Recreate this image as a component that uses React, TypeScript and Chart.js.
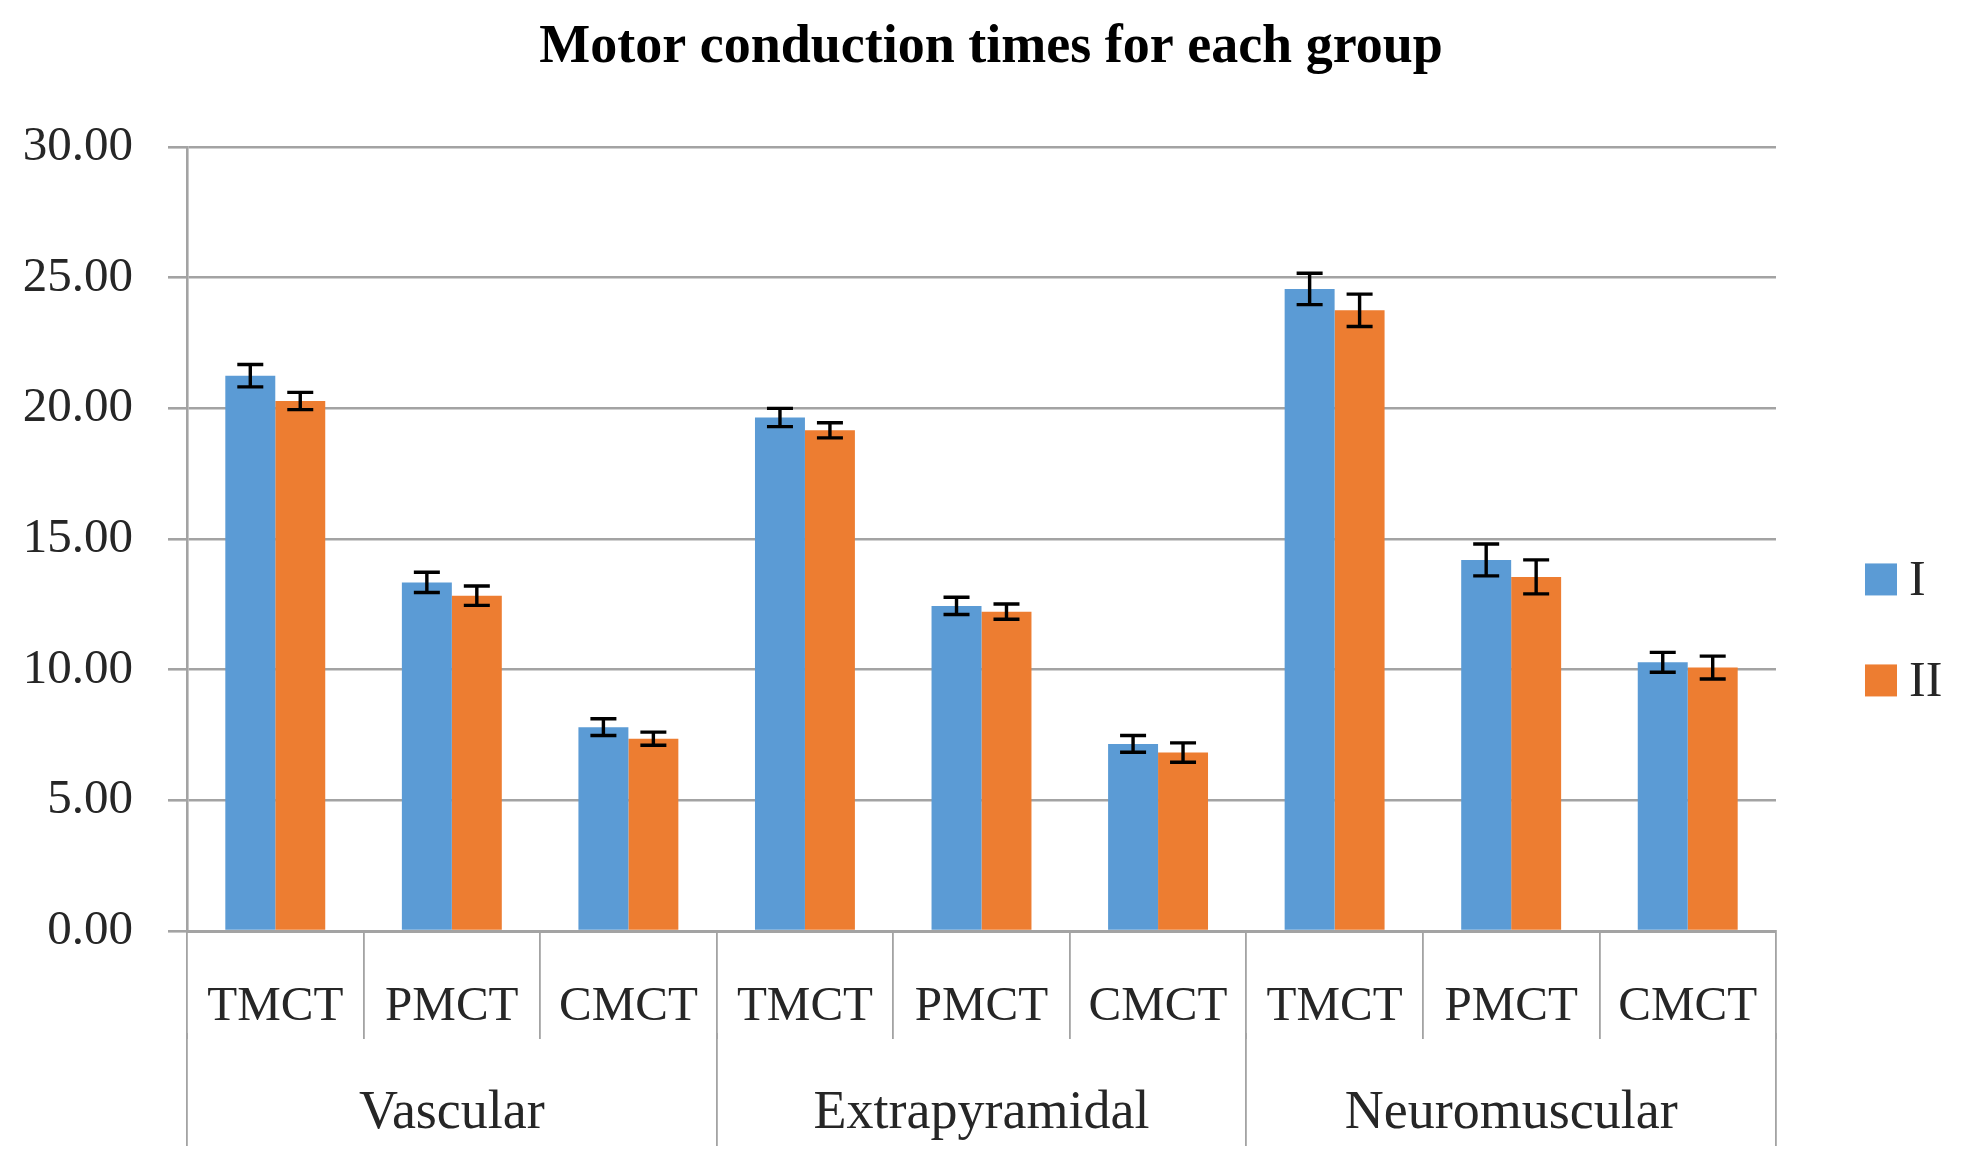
import React, { useEffect, useRef } from "react";
import { Chart, registerables } from "chart.js";

Chart.register(...registerables);

const categories = ["TMCT", "PMCT", "CMCT", "TMCT", "PMCT", "CMCT", "TMCT", "PMCT", "CMCT"];
const groups = ["Vascular", "Extrapyramidal", "Neuromuscular"];
const seriesNames = ["I", "II"];
const valuesI = [21.25, 13.34, 7.8, 19.65, 12.44, 7.16, 24.57, 14.2, 10.28];
const valuesII = [20.28, 12.83, 7.36, 19.16, 12.22, 6.83, 23.75, 13.55, 10.08];
const errorsI = [0.43, 0.39, 0.32, 0.35, 0.33, 0.32, 0.6, 0.61, 0.38];
const errorsII = [0.33, 0.37, 0.25, 0.29, 0.29, 0.37, 0.62, 0.65, 0.44];
const yTicks = { min: 0, max: 30, step: 5 };

const BLUE = "#5B9BD5";
const ORANGE = "#ED7D31";
const GRID = "#a3a3a3";
const TEXT = "#262626";
const FONT = "'Liberation Serif', 'DejaVu Serif', serif";

const errorBarPlugin = {
  id: "errorBars",
  afterDatasetsDraw(chart: any) {
    const ctx = chart.ctx;
    const yScale = chart.scales.y;
    chart.data.datasets.forEach((ds: any, di: number) => {
      const meta = chart.getDatasetMeta(di);
      const errs: number[] = ds.errors || [];
      meta.data.forEach((el: any, i: number) => {
        const v = ds.data[i];
        const e = errs[i] || 0;
        const yTop = yScale.getPixelForValue(v + e);
        const yBot = yScale.getPixelForValue(v - e);
        const x = el.x;
        const cap = 13;
        ctx.save();
        ctx.strokeStyle = "#000";
        ctx.lineWidth = 3.4;
        ctx.beginPath();
        ctx.moveTo(x, yTop);
        ctx.lineTo(x, yBot);
        ctx.moveTo(x - cap, yTop);
        ctx.lineTo(x + cap, yTop);
        ctx.moveTo(x - cap, yBot);
        ctx.lineTo(x + cap, yBot);
        ctx.stroke();
        ctx.restore();
      });
    });
  },
};

const sideLegendPlugin = {
  id: "sideLegend",
  afterDraw(chart: any) {
    const ctx = chart.ctx;
    const area = chart.chartArea;
    const center = area.top + 0.616 * (area.bottom - area.top);
    const spacing = 101;
    const n = chart.data.datasets.length;
    const boxX = area.right + 89;
    const box = 32;
    chart.data.datasets.forEach((ds: any, i: number) => {
      const cy = center + (i - (n - 1) / 2) * spacing;
      ctx.save();
      ctx.fillStyle = ds.backgroundColor;
      ctx.fillRect(boxX, cy - box / 2, box, box);
      ctx.fillStyle = TEXT;
      ctx.font = `50px ${FONT}`;
      ctx.textBaseline = "middle";
      ctx.textAlign = "left";
      ctx.fillText(ds.label, boxX + box + 12, cy + 2);
      ctx.restore();
    });
  },
};

export default function App() {
  const canvasRef = useRef<HTMLCanvasElement | null>(null);

  useEffect(() => {
    document.body.style.margin = "0";
    const canvas = canvasRef.current;
    if (!canvas) return;
    const chart = new Chart(canvas, {
      type: "bar",
      data: {
        labels: categories,
        datasets: [
          {
            label: seriesNames[0],
            data: valuesI,
            backgroundColor: BLUE,
            errors: errorsI,
            categoryPercentage: 0.566,
            barPercentage: 1,
          } as any,
          {
            label: seriesNames[1],
            data: valuesII,
            backgroundColor: ORANGE,
            errors: errorsII,
            categoryPercentage: 0.566,
            barPercentage: 1,
          } as any,
        ],
      },
      options: {
        animation: false,
        responsive: true,
        maintainAspectRatio: false,
        devicePixelRatio: 1,
        layout: { padding: { left: 22, right: 8, top: 0, bottom: 21 } },
        plugins: {
          legend: { display: false },
          tooltip: { enabled: false },
          title: {
            display: true,
            text: "Motor conduction times for each group",
            color: "#000",
            font: { family: FONT, size: 54, weight: "bold" },
            padding: { top: 16, bottom: 66.2 },
          },
        },
        scales: {
          x: {
            type: "category",
            position: "bottom",
            offset: true,
            grid: {
              offset: true,
              drawOnChartArea: false,
              drawTicks: true,
              tickLength: 108,
              color: GRID,
              lineWidth: 1.8,
            },
            border: { display: true, color: GRID, width: 3 },
            ticks: {
              autoSkip: false,
              maxRotation: 0,
              minRotation: 0,
              padding: -61,
              color: TEXT,
              font: { family: FONT, size: 49 },
            },
            afterFit: (s: any) => {
              s.height = 102;
            },
          },
          x2: {
            type: "category",
            position: "bottom",
            labels: groups,
            offset: true,
            grid: {
              offset: true,
              drawOnChartArea: false,
              drawTicks: true,
              tickLength: 113,
              color: GRID,
              lineWidth: 1.8,
            },
            border: { display: false },
            ticks: {
              autoSkip: false,
              maxRotation: 0,
              minRotation: 0,
              padding: -65,
              color: TEXT,
              font: { family: FONT, size: 54 },
            },
            afterFit: (s: any) => {
              s.height = 110;
            },
          },
          y: {
            min: yTicks.min,
            max: yTicks.max,
            ticks: {
              stepSize: yTicks.step,
              padding: 35,
              color: TEXT,
              font: { family: FONT, size: 49 },
              callback: (v: any) => Number(v).toFixed(2),
            },
            grid: { color: GRID, lineWidth: 2.6, tickLength: 19 },
            border: { display: true, color: GRID, width: 2.6 },
            afterFit: (s: any) => {
              s.width = 165;
            },
          },
          legendSpace: {
            type: "linear",
            position: "right",
            min: 0,
            max: 1,
            grid: { display: false },
            border: { display: false },
            ticks: { display: false },
            afterFit: (s: any) => {
              s.width = 184;
            },
          },
        },
      } as any,
      plugins: [errorBarPlugin, sideLegendPlugin],
    });
    return () => chart.destroy();
  }, []);

  return (
    <div style={{ width: "1968px", height: "1164px", position: "relative", background: "#fff" }}>
      <canvas ref={canvasRef} />
    </div>
  );
}
